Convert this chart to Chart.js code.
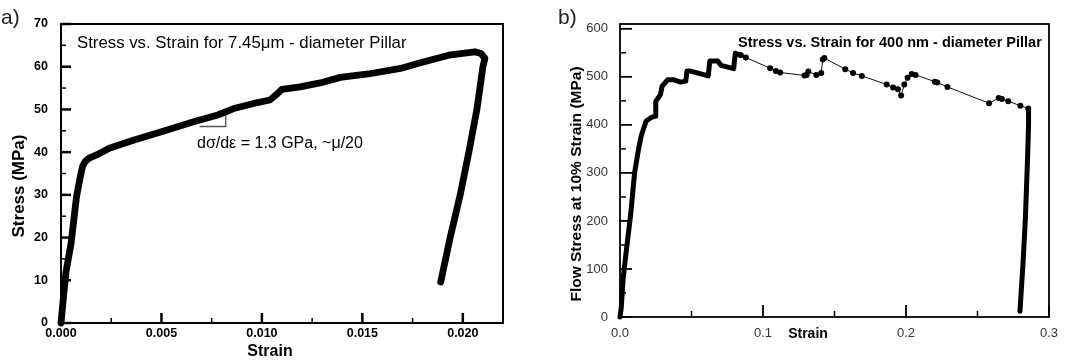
<!DOCTYPE html>
<html><head><meta charset="utf-8">
<script src="https://cdn.jsdelivr.net/npm/chart.js@4.4.0/dist/chart.umd.min.js"></script>
<style>
html,body{margin:0;padding:0;background:#fff;width:1083px;height:362px;overflow:hidden}
#wa{position:absolute;left:0;top:0;width:540px;height:362px}
#wb{position:absolute;left:540px;top:0;width:543px;height:362px}
canvas{display:block}
</style></head><body>
<div id="wa"><canvas id="ca" width="540" height="362"></canvas></div>
<div id="wb"><canvas id="cb" width="543" height="362"></canvas></div>
<script>
// ---------- Panel a: 7.45 µm pillar ----------
const strainA = [0, 0.0001, 0.00025, 0.0005, 0.00077, 0.00095, 0.00107, 0.0012, 0.0014, 0.0018, 0.0024, 0.0036, 0.005, 0.0066, 0.0078, 0.0086, 0.0096, 0.0104, 0.0107, 0.011, 0.0119, 0.0129, 0.0139, 0.0153, 0.0169, 0.0178, 0.0193, 0.0206, 0.0209, 0.0211, 0.0210, 0.0207, 0.0203, 0.01987, 0.01937, 0.0189];
const stressA = [0, 5, 12, 18.6, 29.5, 34, 36.6, 37.8, 38.6, 39.4, 40.9, 42.8, 44.8, 47.1, 48.7, 50.2, 51.4, 52.2, 53.4, 54.7, 55.3, 56.2, 57.5, 58.3, 59.6, 60.8, 62.7, 63.5, 63.1, 62.0, 60.0, 50.0, 40.0, 30.0, 20.0, 9.6];
const slopeStrainA = [0.0069, 0.0082, 0.0082];
const slopeStressA = [46.0, 46.0, 48.6];
const xTickValuesA = [0, 0.0025, 0.005, 0.0075, 0.01, 0.0125, 0.015, 0.0175, 0.02];
const xTickLabelsA = ['0.000', '', '0.005', '', '0.010', '', '0.015', '', '0.020'];
const yTickValuesA = [0, 5, 10, 15, 20, 25, 30, 35, 40, 45, 50, 55, 60, 65, 70];
const yTickLabelsA = ['0', '', '10', '', '20', '', '30', '', '40', '', '50', '', '60', '', '70'];

// ---------- Panel b: 400 nm pillar ----------
const strainBLoad = [0, 0.0009, 0.0022, 0.0045, 0.0074, 0.0102, 0.013, 0.0149, 0.0183, 0.0216, 0.0245, 0.025, 0.0283, 0.0294, 0.0334, 0.0372, 0.0423, 0.046, 0.0468, 0.0494, 0.0617, 0.0628, 0.0684, 0.0706, 0.0795, 0.0806, 0.0845];
const stressBLoad = [0, 20, 80, 140, 212, 300, 350, 378, 408, 415, 418, 449, 463, 480, 494, 494, 489, 491, 512, 512, 502, 533, 533, 524, 517, 549, 545];
const strainBFlow = [0.0845, 0.088, 0.105, 0.109, 0.112, 0.129, 0.1305, 0.1317, 0.1373, 0.1407, 0.1418, 0.1429, 0.1575, 0.163, 0.1691, 0.1865, 0.191, 0.1944, 0.1966, 0.1988, 0.2011, 0.204, 0.2067, 0.2201, 0.2219, 0.229, 0.2581, 0.2648, 0.2671, 0.2715, 0.28, 0.2855];
const stressBFlow = [545, 540, 518, 512, 509, 503, 504, 511, 504, 508, 536, 539, 516, 508, 502, 484, 478, 474, 461, 484, 498, 506, 504, 490, 488, 479, 445, 456, 454, 449, 440, 434];
const strainBUnload = [0.2857, 0.2857, 0.285, 0.2835, 0.2818, 0.2805, 0.2797];
const stressBUnload = [434, 400, 330, 206, 110, 50, 12];
const xTickValuesB = [0, 0.05, 0.1, 0.15, 0.2, 0.25, 0.3];
const xTickLabelsB = ['0.0', '', '0.1', '', '0.2', '', '0.3'];
const yTickValuesB = [0, 50, 100, 150, 200, 250, 300, 350, 400, 450, 500, 550, 600];
const yTickLabelsB = ['0', '', '100', '', '200', '', '300', '', '400', '', '500', '', '600'];

const FAM = "'Liberation Sans', Arial, sans-serif";
const pts = (xs, ys) => xs.map((x, i) => ({x: x, y: ys[i]}));

const frameTicks = {
  id: 'frameTicks',
  beforeDatasetsDraw(chart, args, o) {
    const ctx = chart.ctx, a = chart.chartArea;
    ctx.save();
    ctx.strokeStyle = o.color;
    ['x', 'y'].forEach(id => {
      const s = chart.scales[id];
      s.ticks.forEach(t => {
        const major = t.label !== '' && t.label !== undefined;
        const len = major ? o.major : o.minor;
        ctx.lineWidth = major ? o.majorWidth : o.minorWidth;
        const p = s.getPixelForValue(t.value);
        ctx.beginPath();
        if (id === 'x') { ctx.moveTo(p, a.bottom); ctx.lineTo(p, a.bottom - len); }
        else { ctx.moveTo(a.left, p); ctx.lineTo(a.left + len, p); }
        ctx.stroke();
      });
    });
    ctx.lineWidth = o.frameWidth;
    ctx.strokeRect(a.left, a.top, a.right - a.left, a.bottom - a.top);
    ctx.restore();
  }
};
const textPlugin = {
  id: 'texts',
  afterDraw(chart, args, o) {
    const ctx = chart.ctx;
    o.items.forEach(it => {
      ctx.save();
      ctx.font = it.font;
      ctx.fillStyle = it.color || '#000';
      ctx.textAlign = it.align || 'left';
      ctx.textBaseline = 'middle';
      ctx.translate(it.x, it.y);
      if (it.rot) ctx.rotate(it.rot);
      ctx.fillText(it.text, 0, 0);
      ctx.restore();
    });
  }
};

function scaleCfg(min, max, vals, labels, size, font, color, padding, pos) {
  return {
    type: 'linear', min: min, max: max, position: pos,
    afterBuildTicks: s => { s.ticks = vals.map(v => ({value: v})); },
    afterFit: s => { if (pos === 'bottom') s.height = size; else s.width = size; },
    grid: {display: false, drawTicks: false},
    border: {display: false},
    ticks: {callback: (v, i) => labels[i], font: font, color: color, padding: padding, maxRotation: 0, autoSkip: false}
  };
}

new Chart(document.getElementById('ca'), {
  type: 'line',
  data: {datasets: [
    {data: pts(strainA, stressA), borderColor: '#000', borderWidth: 6.8, pointRadius: 0, borderJoinStyle: 'round', borderCapStyle: 'round', tension: 0, clip: false},
    {data: pts(slopeStrainA, slopeStressA), borderColor: '#555', borderWidth: 1.3, pointRadius: 0, tension: 0}
  ]},
  options: {
    responsive: false, animation: false, devicePixelRatio: 1,
    layout: {padding: {left: 0, top: 24, right: 37, bottom: 0}},
    plugins: {
      legend: {display: false}, tooltip: {enabled: false},
      frameTicks: {color: '#000', major: 10, minor: 5, majorWidth: 2.5, minorWidth: 1.5, frameWidth: 2},
      texts: {items: [
        {text: 'a)', x: 1, y: 18, font: '21px ' + FAM, color: '#222'},
        {text: 'Stress vs. Strain for 7.45\u03bcm - diameter Pillar', x: 77, y: 43, font: '16.8px ' + FAM},
        {text: 'd\u03c3/d\u03b5 = 1.3 GPa, ~\u03bc/20', x: 197, y: 144, font: '16px ' + FAM},
        {text: 'Stress (MPa)', x: 19, y: 186, rot: -Math.PI / 2, align: 'center', font: 'bold 17px ' + FAM},
        {text: 'Strain', x: 270, y: 352, align: 'center', font: 'bold 16px ' + FAM}
      ]}
    },
    scales: {
      x: scaleCfg(0, 0.022, xTickValuesA, xTickLabelsA, 39, {family: FAM, size: 12.5, weight: 'bold'}, '#000', 3, 'bottom'),
      y: scaleCfg(0, 70, yTickValuesA, yTickLabelsA, 61, {family: FAM, size: 12.5, weight: 'bold'}, '#000', 13, 'left')
    }
  },
  plugins: [frameTicks, textPlugin]
});

new Chart(document.getElementById('cb'), {
  type: 'line',
  data: {datasets: [
    {data: pts(strainBLoad, stressBLoad), borderColor: '#000', borderWidth: 5, pointRadius: 0, borderJoinStyle: 'round', borderCapStyle: 'round', tension: 0, clip: false},
    {data: pts(strainBFlow, stressBFlow), borderColor: '#111', borderWidth: 1, pointRadius: 3, pointBackgroundColor: '#000', pointBorderWidth: 0, tension: 0, clip: false},
    {data: pts(strainBUnload, stressBUnload), borderColor: '#000', borderWidth: 5, pointRadius: 0, borderJoinStyle: 'round', borderCapStyle: 'round', tension: 0, clip: false}
  ]},
  options: {
    responsive: false, animation: false, devicePixelRatio: 1,
    layout: {padding: {left: 0, top: 24, right: 34, bottom: 0}},
    plugins: {
      legend: {display: false}, tooltip: {enabled: false},
      frameTicks: {color: '#000', major: 12, minor: 6, majorWidth: 1.8, minorWidth: 1.5, frameWidth: 1.8},
      texts: {items: [
        {text: 'b)', x: 18, y: 18, font: '21px ' + FAM, color: '#222'},
        {text: 'Stress vs. Strain for 400 nm - diameter Pillar', x: 198, y: 43, font: 'bold 14.5px ' + FAM},
        {text: 'Flow Stress at 10% Strain (MPa)', x: 37, y: 184, rot: -Math.PI / 2, align: 'center', font: 'bold 15.5px ' + FAM},
        {text: 'Strain', x: 268, y: 334, align: 'center', font: 'bold 14px ' + FAM}
      ]}
    },
    scales: {
      x: scaleCfg(0, 0.3, xTickValuesB, xTickLabelsB, 45, {family: FAM, size: 13}, '#333', 9, 'bottom'),
      y: scaleCfg(0, 610, yTickValuesB, yTickLabelsB, 80, {family: FAM, size: 13}, '#333', 12, 'left')
    }
  },
  plugins: [frameTicks, textPlugin]
});
</script>
</body></html>
